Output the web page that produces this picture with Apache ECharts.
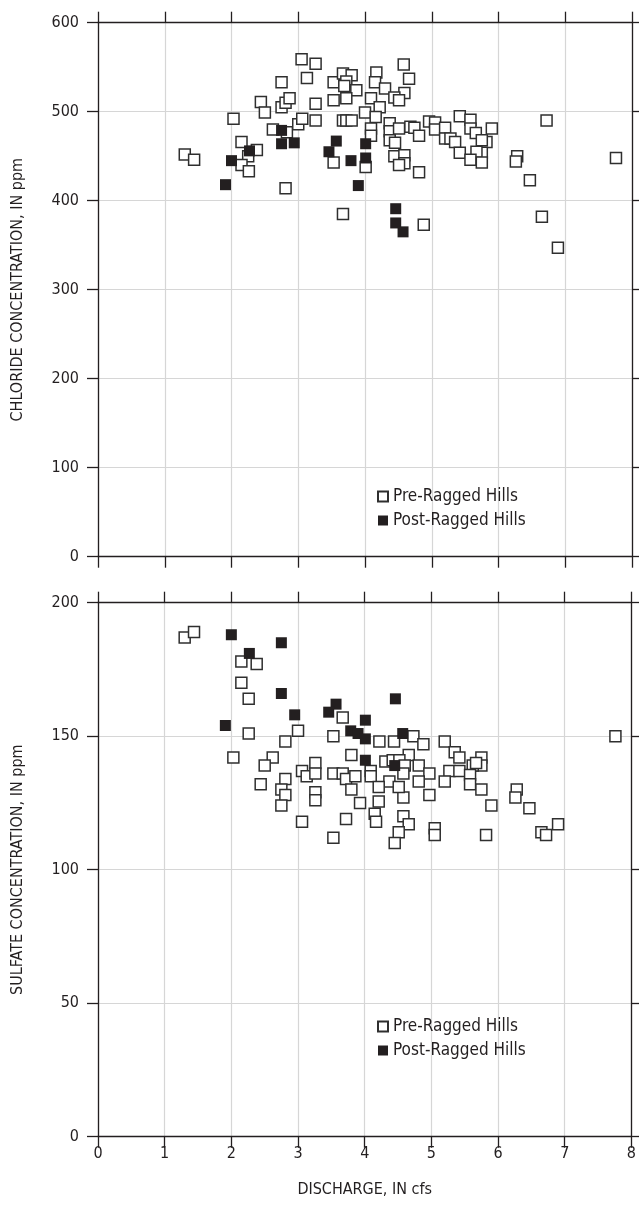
<!DOCTYPE html>
<html><head><meta charset="utf-8">
<script src="https://cdn.jsdelivr.net/npm/echarts@6/dist/echarts.min.js"></script>
<style>html,body{margin:0;padding:0;background:#fff}#c{width:639px;height:1211px}</style>
</head><body><div id="c"></div>
<script>
// Chloride (ppm) vs discharge (cfs)
const chloridePre = [
 [1.30,452],[1.44,446],[2.03,492],[2.15,466],[2.38,457],[2.25,450],[2.15,440],[2.26,433],[2.44,511],[2.50,499],
 [2.75,533],[2.75,505],[2.81,510],[2.87,515],[2.62,480],[2.83,477],[3.00,486],[3.06,492],[2.81,414],[3.05,559],
 [3.26,554],[3.13,538],[3.26,509],[3.26,490],[3.53,533],[3.53,513],[3.67,543],[3.80,541],[3.72,534],[3.69,529],
 [3.87,524],[3.72,515],[3.67,490],[3.72,490],[3.80,490],[3.53,443],[3.67,385],[4.17,544],[4.15,533],[4.30,526],
 [4.58,553],[4.66,537],[4.59,521],[4.44,516],[4.51,513],[4.09,515],[4.22,505],[4.00,499],[4.16,494],[4.09,481],
 [4.09,473],[4.37,487],[4.37,478],[4.37,468],[4.51,481],[4.45,465],[4.68,483],[4.74,482],[4.81,473],[4.44,450],
 [4.59,451],[4.59,442],[4.51,440],[4.81,432],[4.01,438],[4.88,373],[4.96,489],[5.05,488],[5.05,480],[5.20,482],
 [5.20,470],[5.28,470],[5.35,466],[5.42,495],[5.58,491],[5.58,481],[5.66,476],[5.42,454],[5.82,466],[5.75,468],
 [5.90,481],[5.75,454],[5.67,455],[5.58,446],[5.75,443],[6.72,490],[6.28,450],[6.26,444],[6.47,423],[7.76,448],
 [6.65,382],[6.89,347]
];
const chloridePost = [
 [1.91,418],[2.00,445],[2.27,456],[2.75,479],[2.75,464],[2.94,465],[3.46,455],[3.57,467],[3.79,445],[3.90,417],
 [4.01,464],[4.01,448],[4.46,391],[4.46,375],[4.57,365]
];
// Sulfate (ppm) vs discharge (cfs)
const sulfatePre = [
 [1.30,187],[1.44,189],[2.15,178],[2.38,177],[2.15,170],[2.26,164],[2.26,151],[3.00,152],[2.81,148],[2.03,142],
 [3.67,157],[3.53,150],[2.62,142],[2.50,139],[2.44,132],[2.81,134],[2.75,130],[2.81,128],[2.75,124],[3.06,137],
 [3.13,135],[3.26,140],[3.26,136],[3.26,129],[3.26,126],[3.53,136],[3.67,136],[3.72,134],[3.86,135],[3.80,130],
 [3.80,143],[3.93,125],[3.06,118],[3.72,119],[4.09,137],[4.09,135],[4.22,148],[4.44,148],[4.73,150],[4.88,147],
 [5.20,148],[5.35,144],[5.42,142],[5.75,142],[5.75,139],[5.62,139],[4.66,143],[4.31,140.5],[4.42,141],[4.52,141],
 [4.60,139],[4.81,139],[4.97,136],[5.27,137],[5.42,137],[5.20,133],[5.58,135.5],[5.58,132],[5.75,130],[4.81,133],
 [4.97,128],[4.58,136],[4.58,127],[4.37,133],[4.51,131],[4.21,131],[4.21,125.5],[4.15,121],[4.17,118],[3.53,112],
 [4.58,120],[4.66,117],[4.51,114],[4.45,110],[5.05,115.5],[5.05,113],[5.82,113],[5.90,124],[7.76,150],[5.67,140],
 [6.28,130],[6.26,127],[6.47,123],[6.90,117],[6.65,114],[6.72,113]
];
const sulfatePost = [
 [2.00,188],[2.27,181],[2.75,185],[2.75,166],[2.95,158],[1.91,154],[3.57,162],[3.46,159],[3.79,152],[3.90,151],
 [4.01,149],[4.01,156],[4.01,141],[4.46,164],[4.57,151],[4.45,139]
];
const xTickLabels = ['0','1','2','3','4','5','6','7','8'];
const chlorideTicks = ['0','100','200','300','400','500','600'];
const sulfateTicks = ['0','50','100','150','200'];
const xName = 'DISCHARGE, IN cfs';
const yNameTop = 'CHLORIDE CONCENTRATION, IN ppm';
const yNameBottom = 'SULFATE CONCENTRATION, IN ppm';
const preName = 'Pre-Ragged Hills';
const postName = 'Post-Ragged Hills';

const FONT = "'Liberation Sans Narrow','DejaVu Sans Condensed','Roboto',sans-serif";
const INK = '#231f20';
const GRIDC = '#d6d6d6';
const TICK = 11;

function xAx(gi, showLabels, pos, withName) {
  return {
    type:'value', gridIndex:gi, min:0, max:8, interval:1, position:pos,
    axisLine:{show:true, onZero:false, lineStyle:{color:INK, width:1.3}},
    axisTick:{show:true, inside:false, length:TICK, lineStyle:{color:INK, width:1.3}},
    splitLine:{show:pos==='bottom', lineStyle:{color:GRIDC, width:1.2}},
    axisLabel:{show:showLabels, margin:9, fontFamily:FONT, fontSize:16, color:INK,
      formatter:v=>xTickLabels[Math.round(v)]},
    name: withName ? xName : '', nameLocation:'middle', nameGap:45,
    nameTextStyle:{fontFamily:FONT, fontSize:16, color:INK}
  };
}
function yAx(gi, max, interval, labels, pos, name) {
  return {
    type:'value', gridIndex:gi, min:0, max:max, interval:interval, position:pos,
    axisLine:{show:true, onZero:false, lineStyle:{color:INK, width:1.3}},
    axisTick:{show:true, inside:false, length:TICK, lineStyle:{color:INK, width:1.3}},
    splitLine:{show:pos==='left', lineStyle:{color:GRIDC, width:1.2}},
    axisLabel:{show:pos==='left', margin:19, fontFamily:FONT, fontSize:16, color:INK,
      formatter:v=>labels[Math.round(v/interval)]},
    name: name || '', nameLocation:'middle', nameGap:72,
    nameTextStyle:{fontFamily:FONT, fontSize:16, color:INK}
  };
}
const openStyle = {color:'#ffffff', borderColor:'#2f2f2f', borderWidth:1.5, opacity:1};
const fillStyle = {color:INK, borderColor:INK, borderWidth:0, opacity:1};
function sc(name, data, xi, yi, style) {
  return {type:'scatter', name:name, data:data, xAxisIndex:xi, yAxisIndex:yi,
    symbol:'rect', symbolSize:11, itemStyle:style, emphasis:{disabled:true}, silent:true, animation:false};
}
const legendCommon = {
  orient:'vertical', icon:'rect', itemWidth:10, itemHeight:10, itemGap:7,
  textStyle:{fontFamily:FONT, fontSize:17, color:INK},
  data:[preName, postName], selectedMode:false
};
const chart = echarts.init(document.getElementById('c'), null, {renderer:'canvas'});
chart.setOption({
  animation:false,
  backgroundColor:'#fff',
  grid:[
    {left:98, right:7, top:22.7, height:534},
    {left:98, right:7, top:602.7, height:534}
  ],
  xAxis:[
    xAx(0,false,'bottom',false), xAx(0,false,'top',false),
    xAx(1,true,'bottom',true), xAx(1,false,'top',false)
  ],
  yAxis:[
    yAx(0,600,100,chlorideTicks,'left',yNameTop), yAx(0,600,100,chlorideTicks,'right',''),
    yAx(1,200,50,sulfateTicks,'left',yNameBottom), yAx(1,200,50,sulfateTicks,'right','')
  ],
  legend:[
    Object.assign({left:372, top:483}, legendCommon),
    Object.assign({left:372, top:1013}, legendCommon)
  ],
  series:[
    sc(preName, chloridePre, 0, 0, openStyle),
    sc(postName, chloridePost, 0, 0, fillStyle),
    sc(preName, sulfatePre, 2, 2, openStyle),
    sc(postName, sulfatePost, 2, 2, fillStyle)
  ]
});
</script></body></html>
